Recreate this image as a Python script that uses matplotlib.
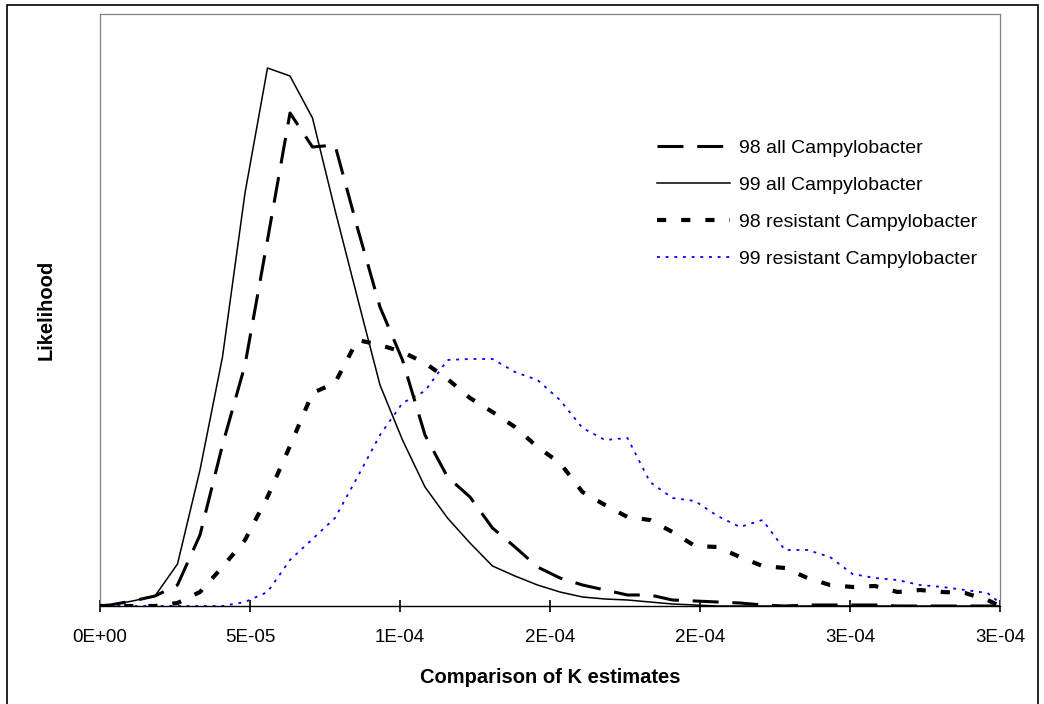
import matplotlib
matplotlib.use("Agg")
import matplotlib.pyplot as plt
from matplotlib.patches import Rectangle
from matplotlib.ticker import FixedLocator, FixedFormatter

plt.rcParams['font.family'] = ['Liberation Sans', 'DejaVu Sans']

# K estimate grid (units of 1e-6)
k_est = [0, 3.33, 10.83, 18.33, 25.83, 33.33, 40.83, 48.33, 55.83, 63.33, 70.83,
         78.33, 85.83, 93.33, 100.83, 108.33, 115.83, 123.33, 130.83, 138.33, 145.83,
         153.33, 160.83, 168.33, 175.83, 183.33, 190.83, 198.33, 205.83, 213.33, 220.83,
         228.33, 235.83, 243.33, 250.83, 258.33, 265.83, 273.33, 280.83, 288.33, 295.83, 300]

# Likelihood (arbitrary units)
all_98 = [0, 1, 5, 10, 21, 71, 161, 241, 366, 493, 459,
          461, 378, 299, 246, 171, 129, 109, 78, 59, 39,
          28, 21, 16, 11, 11, 6, 5, 4, 3, 1,
          0, 1, 1, 1, 1, 0, 0, 0, 0, 0, 0]
all_99 = [0, 1, 5, 10, 42, 136, 249, 413, 538, 530, 488,
          396, 308, 221, 166, 119, 88, 63, 40, 30, 21,
          14, 9, 7, 6, 4, 2, 1, 0, 0, 0,
          0, 0, 0, 0, 0, 0, 0, 0, 0, 0, 0]
res_98 = [0, 0, 0, 0, 3, 14, 39, 66, 109, 160, 213,
          223, 266, 261, 254, 243, 227, 208, 194, 179, 159,
          143, 114, 101, 89, 86, 74, 60, 59, 49, 40,
          38, 28, 21, 19, 20, 14, 16, 14, 13, 6, 0]
res_99 = [0, 0, 0, 0, 0, 0, 0, 4, 14, 46, 67,
          88, 129, 171, 203, 215, 246, 247, 247, 234, 226,
          206, 178, 166, 168, 124, 108, 105, 90, 79, 86,
          56, 56, 49, 32, 28, 26, 21, 19, 16, 13, 3]

labels = ["98 all Campylobacter", "99 all Campylobacter",
          "98 resistant Campylobacter", "99 resistant Campylobacter"]
tick_vals = [0, 50, 100, 150, 200, 250, 300]
tick_labels = ["0E+00", "5E-05", "1E-04", "2E-04", "2E-04", "3E-04", "3E-04"]

W, H = 1044, 704
fig = plt.figure(figsize=(W / 100, H / 100), dpi=100)
ax = fig.add_axes([100 / W, (H - 606) / H, 900 / W, 592 / H])

xs = [v * 1e-6 for v in k_est]
ax.plot(xs, all_98, color='black', lw=2.2, linestyle=(0, (8.5, 4.5)),
        dash_capstyle='butt', label=labels[0], zorder=3)
ax.plot(xs, all_99, color='black', lw=1.1, linestyle='-', label=labels[1], zorder=4)
ax.plot(xs, res_98, color='black', lw=3.0, linestyle=(0, (2.2, 3.6)),
        dash_capstyle='butt', label=labels[2], zorder=3)
ax.plot(xs, res_99, color='#0000FF', lw=1.3, linestyle=(0, (1.6, 3.2)),
        dash_capstyle='butt', label=labels[3], zorder=2)

ax.set_xlim(0, 3e-4)
ax.set_ylim(0, 592)
ax.xaxis.set_major_locator(FixedLocator([v * 1e-6 for v in tick_vals]))
ax.xaxis.set_major_formatter(FixedFormatter(tick_labels))
ax.tick_params(axis='x', direction='inout', length=9, width=1.2, pad=12,
               labelsize=13.5, color='black')
ax.set_yticks([])

for s in ['left', 'top', 'right']:
    ax.spines[s].set_color('#808080')
    ax.spines[s].set_linewidth(0.9)
ax.spines['bottom'].set_color('black')
ax.spines['bottom'].set_linewidth(1.0)

ax.set_xlabel("Comparison of K estimates", fontsize=14.5, fontweight='bold', labelpad=16)
fig.text(46 / W, 1 - 310 / H, "Likelihood", rotation=90, fontsize=14.5,
         fontweight='bold', ha='center', va='center')

leg = ax.legend(frameon=False, loc='upper left',
                bbox_to_anchor=(657 / W, 1 - 139 / H), bbox_transform=fig.transFigure,
                borderpad=0, borderaxespad=0, handlelength=3.75, handletextpad=0.45,
                labelspacing=1.0, fontsize=14)

fig.add_artist(Rectangle((7 / W, -0.05), (1038 - 7) / W, 1.05 - 5 / H,
                         transform=fig.transFigure, fill=False, edgecolor='black', lw=1.2))

fig.savefig("out.png", dpi=100)
